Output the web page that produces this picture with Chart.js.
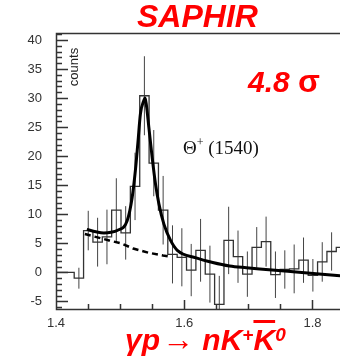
<!DOCTYPE html>
<html>
<head>
<meta charset="utf-8">
<script src="https://cdn.jsdelivr.net/npm/chart.js"></script>
<style>
  html, body { margin: 0; padding: 0; background: #fff; }
  #wrap { position: relative; width: 340px; height: 363px; overflow: hidden; }
  #wrap canvas { position: absolute; left: 0; top: 0; }
  .lbl { position: absolute; white-space: nowrap; line-height: 1; }
  .red { color: #ff0000; font-family: "Liberation Sans", Arial, sans-serif; font-weight: bold; font-style: italic; }
  .sup { line-height: 0; position: relative; }
</style>
</head>
<body>
<div id="wrap">
  <canvas id="chart" width="340" height="363"></canvas>
  <div class="lbl red" style="left:137px; top:0px; font-size:32px;">SAPHIR</div>
  <div class="lbl red" style="left:248px; top:65px; font-size:30px;">4.8 <span style="font-style:normal; font-size:32px;">σ</span></div>
  <div class="lbl" style="left:73px; top:67px; font-size:13px; color:#222; font-family:'Liberation Sans', Arial, sans-serif; transform: translate(-50%,-50%) rotate(-90deg);">counts</div>
  <div class="lbl" style="left:183px; top:138px; font-size:19px; color:#111; font-family:'Liberation Serif', 'Times New Roman', serif;">Θ<span class="sup" style="font-size:12px; top:-8px;">+</span> (1540)</div>
  <div class="lbl red" style="left:125px; top:323px; font-size:30px;">γp<span style="font-weight:normal; font-style:normal; font-size:32px; margin-left:2px;">→</span> nK<span class="sup" style="font-size:19px; top:-9px;">+</span><span style="text-decoration:overline; text-decoration-thickness:3px;">K</span><span class="sup" style="font-size:19px; top:-9px;">0</span></div>
</div>
<script>
// histogram: lower bin edges (GeV), counts and errors
const binLow = [1.3992, 1.4138, 1.4284, 1.4430, 1.4576, 1.4722, 1.4868, 1.5014, 1.5160, 1.5306,
                1.5452, 1.5598, 1.5744, 1.5890, 1.6036, 1.6182, 1.6328, 1.6474, 1.6620, 1.6766,
                1.6912, 1.7058, 1.7204, 1.7350, 1.7496, 1.7642, 1.7788, 1.7934, 1.8080, 1.8226, 1.8372];
const lastEdge = 1.8518;
const counts = [0, 0, -1.0, 7.2, 5.2, 6.1, 10.7, 6.8, 14.8, 30.4,
                18.8, 10.7, 3.1, 2.6, 0.4, 3.8, -0.3, -5.5, 5.5, 2.7,
                -0.3, 4.3, 5.3, -0.4, 0.5, 0.6, 2.1, -0.5, 1.8, 3.6, 4.3];
const errors = [0, 0, 1.8, 3.4, 4.2, 4.7, 5.5, 4.6, 5.8, 6.8,
                5.7, 5.9, 5.0, 5.0, 4.5, 5.4, 4.9, 4.9, 5.8, 4.5,
                3.9, 3.5, 4.3, 4.0, 3.3, 4.2, 3.9, 2.8, 3.4, 3.3, 3.0];

// fit curve (signal + background)
const fitX = [1.4481, 1.4622, 1.4748, 1.4857, 1.4953, 1.5110, 1.5188, 1.5238, 1.5276, 1.5317,
              1.5370, 1.5390, 1.5411, 1.5448, 1.5500, 1.5552, 1.5605, 1.5683, 1.5787, 1.5892,
              1.6185, 1.6445, 1.6707, 1.6969, 1.7177, 1.7616, 1.8149, 1.8431];
const fitY = [7.4, 7.0, 6.8, 6.9, 7.2, 8.9, 12.9, 17.5, 22.1, 27.3,
              29.6, 30.0, 28.7, 25.0, 19.8, 15.2, 11.8, 8.3, 5.5, 3.8,
              2.5, 1.7, 1.1, 0.8, 0.6, 0.2, -0.3, -0.6];

// background only (dashed)
const bgX = [1.445, 1.4828, 1.5014, 1.5204, 1.5439, 1.567, 1.578];
const bgY = [6.6, 5.5, 5.0, 4.1, 3.4, 2.9, 2.7];

const yTickStep = 5;
const xTickStep = 0.2;

const histPts = binLow.map((x, i) => ({ x: x, y: counts[i] }));
histPts.push({ x: lastEdge, y: counts[counts.length - 1] });

const errPts = [];
binLow.forEach((x, i) => {
  if (!errors[i]) return;
  const hi = i + 1 < binLow.length ? binLow[i + 1] : lastEdge;
  const c = (x + hi) / 2;
  errPts.push({ x: c, y: counts[i] - errors[i] }, { x: c, y: counts[i] + errors[i] }, { x: c, y: null });
});

const frameTicks = {
  id: 'frameTicks',
  afterDatasetsDraw(chart) {
    const { ctx, chartArea: a, scales: { x, y } } = chart;
    ctx.save();
    ctx.strokeStyle = '#333';
    ctx.lineWidth = 1.5;
    ctx.beginPath();
    ctx.moveTo(a.right, a.top + 0.5);
    ctx.lineTo(a.left + 0.5, a.top + 0.5);
    ctx.lineTo(a.left + 0.5, a.bottom + 0.5);
    ctx.lineTo(a.right, a.bottom + 0.5);
    for (let v = Math.ceil(y.min); v <= y.max; v++) {
      const py = Math.round(y.getPixelForValue(v)) + 0.5;
      const len = v % 5 === 0 ? 12 : 6;
      ctx.moveTo(a.left, py);
      ctx.lineTo(a.left + len, py);
    }
    for (let k = 0; ; k++) {
      const v = 1.4 + k * 0.05;
      if (v > x.max) break;
      const px = Math.round(x.getPixelForValue(v)) + 0.5;
      const len = k % 4 === 0 ? 9 : 5;
      ctx.moveTo(px, a.bottom);
      ctx.lineTo(px, a.bottom - len);
    }
    ctx.stroke();
    ctx.restore();
  }
};

new Chart(document.getElementById('chart'), {
  type: 'line',
  data: {
    datasets: [
      {
        data: errPts,
        borderColor: '#444',
        borderWidth: 1,
        pointRadius: 0,
        spanGaps: false,
        order: 4
      },
      {
        data: histPts,
        stepped: true,
        borderColor: '#333',
        borderWidth: 1.3,
        pointRadius: 0,
        order: 3
      },
      {
        data: bgX.map((x, i) => ({ x: x, y: bgY[i] })),
        borderColor: '#000',
        borderWidth: 2.5,
        borderDash: [6, 4],
        pointRadius: 0,
        order: 2
      },
      {
        data: fitX.map((x, i) => ({ x: x, y: fitY[i] })),
        borderColor: '#000',
        borderWidth: 3,
        pointRadius: 0,
        cubicInterpolationMode: 'monotone',
        order: 1
      }
    ]
  },
  options: {
    responsive: false,
    animation: false,
    events: [],
    layout: { padding: { top: 33, left: 0, right: 0, bottom: 0 } },
    plugins: { legend: { display: false }, tooltip: { enabled: false } },
    scales: {
      x: {
        type: 'linear',
        min: 1.4,
        max: 1.843,
        grid: { display: false, drawTicks: false },
        border: { display: false },
        afterFit(s) { s.height = 54; },
        ticks: {
          stepSize: xTickStep,
          includeBounds: false,
          autoSkip: false,
          maxRotation: 0,
          padding: 7,
          color: '#333',
          font: { family: 'Liberation Sans', size: 13 },
          callback: v => Number(v).toFixed(1)
        }
      },
      y: {
        min: -6.3,
        max: 41.2,
        grid: { display: false, drawTicks: false },
        border: { display: false },
        afterFit(s) { s.width = 56; },
        ticks: {
          stepSize: yTickStep,
          includeBounds: false,
          padding: 14,
          color: '#333',
          font: { family: 'Liberation Sans', size: 13 }
        }
      }
    }
  },
  plugins: [frameTicks]
});
</script>
</body>
</html>
